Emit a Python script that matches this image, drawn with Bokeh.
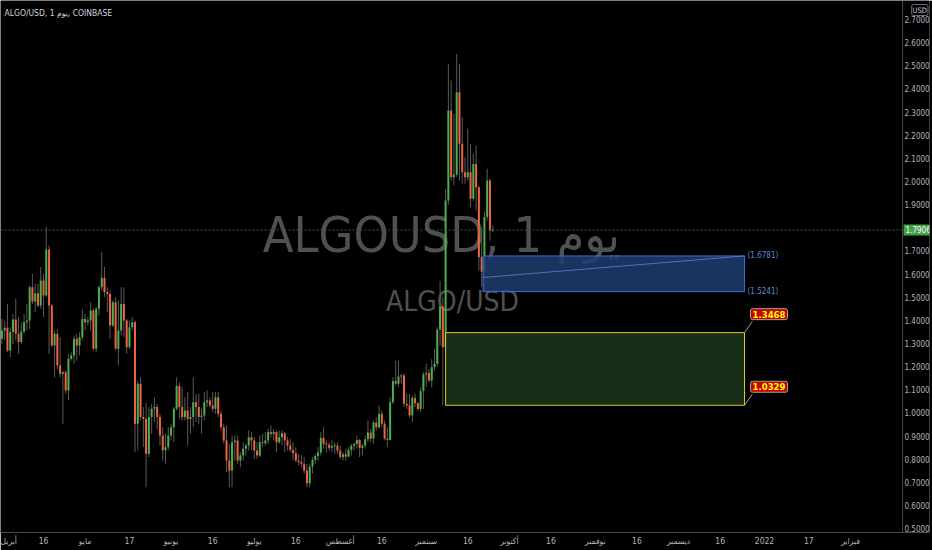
import numpy as np
import pandas as pd
from bokeh.plotting import figure
from bokeh.models import (ColumnDataSource, FixedTicker, NumeralTickFormatter,
                          Span, Label, Range1d)
from bokeh.core.properties import value
from bokeh.embed import file_html
from bokeh.resources import INLINE

# ---- ALGO/USD daily candles, Coinbase, from 2021-04-01 ----
first_day = "2021-04-01"

open_ = [1.320, 1.356, 1.368, 1.270, 1.349, 1.404, 1.342, 1.306, 1.352, 1.392,
         1.399, 1.543, 1.481, 1.517, 1.464, 1.572, 1.507, 1.706, 1.464, 1.291,
         1.342, 1.205, 1.169, 1.176, 1.097, 1.234, 1.248, 1.320, 1.291, 1.327,
         1.406, 1.392, 1.399, 1.442, 1.277, 1.450, 1.543, 1.584, 1.522, 1.514,
         1.378, 1.478, 1.277, 1.356, 1.471, 1.399, 1.284, 1.370, 1.392, 0.953,
         1.126, 0.982, 0.974, 0.823, 0.982, 1.018, 1.025, 0.982, 0.902, 0.838,
         0.852, 0.902, 0.938, 1.018, 1.116, 1.025, 0.982, 1.010, 0.974, 0.982,
         1.046, 1.025, 0.982, 0.989, 1.046, 1.054, 1.032, 1.018, 1.068, 0.996,
         0.938, 0.881, 0.794, 0.751, 0.873, 0.881, 0.794, 0.816, 0.845, 0.859,
         0.895, 0.881, 0.837, 0.816, 0.873, 0.869, 0.881, 0.917, 0.909, 0.917,
         0.873, 0.895, 0.912, 0.881, 0.859, 0.840, 0.826, 0.794, 0.787, 0.780,
         0.751, 0.696, 0.768, 0.797, 0.813, 0.829, 0.892, 0.866, 0.863, 0.849,
         0.856, 0.859, 0.837, 0.809, 0.821, 0.811, 0.840, 0.858, 0.866, 0.883,
         0.849, 0.859, 0.886, 0.915, 0.889, 0.958, 0.938, 0.996, 0.953, 0.889,
         0.883, 1.046, 1.137, 1.126, 1.157, 1.162, 1.039, 1.032, 0.989, 1.065,
         1.042, 1.017, 1.094, 1.166, 1.172, 1.140, 1.197, 1.212, 1.360, 1.460,
         1.284, 1.918, 2.307, 2.018, 2.030, 2.386, 2.163, 2.040, 2.018, 2.040,
         1.925, 2.076, 1.975, 1.673, 1.610, 1.846, 2.004, 1.788]

high = [1.406, 1.399, 1.471, 1.370, 1.428, 1.493, 1.414, 1.392, 1.428, 1.471,
        1.550, 1.601, 1.558, 1.558, 1.630, 1.601, 1.803, 1.723, 1.471, 1.356,
        1.360, 1.327, 1.183, 1.183, 1.255, 1.262, 1.334, 1.342, 1.349, 1.450,
        1.428, 1.414, 1.478, 1.450, 1.457, 1.550, 1.695, 1.630, 1.543, 1.529,
        1.486, 1.500, 1.486, 1.543, 1.543, 1.406, 1.399, 1.414, 1.399, 1.140,
        1.154, 1.025, 1.046, 1.025, 1.039, 1.068, 1.039, 0.996, 0.938, 0.910,
        0.938, 0.953, 1.025, 1.154, 1.133, 1.111, 1.068, 1.090, 1.025, 1.154,
        1.082, 1.082, 1.018, 1.090, 1.097, 1.068, 1.090, 1.090, 1.090, 1.010,
        0.953, 0.946, 0.866, 0.902, 0.902, 0.902, 0.830, 0.873, 0.866, 0.924,
        0.917, 0.895, 0.873, 0.902, 0.909, 0.917, 0.931, 0.945, 0.931, 0.924,
        0.924, 0.924, 0.917, 0.895, 0.888, 0.873, 0.852, 0.823, 0.816, 0.809,
        0.780, 0.780, 0.809, 0.823, 0.852, 0.917, 0.938, 0.881, 0.873, 0.881,
        0.873, 0.873, 0.859, 0.830, 0.845, 0.852, 0.866, 0.873, 0.902, 0.888,
        0.866, 0.902, 0.967, 0.931, 0.967, 0.981, 1.032, 1.010, 0.967, 0.938,
        1.068, 1.154, 1.226, 1.226, 1.169, 1.169, 1.082, 1.082, 1.075, 1.082,
        1.046, 1.111, 1.176, 1.212, 1.190, 1.232, 1.275, 1.370, 1.570, 1.500,
        1.968, 2.508, 2.436, 2.292, 2.551, 2.508, 2.278, 2.105, 2.228, 2.163,
        2.120, 2.155, 1.982, 1.800, 1.870, 2.055, 2.011, 1.810]

low = [1.298, 1.316, 1.262, 1.241, 1.298, 1.313, 1.255, 1.298, 1.342, 1.356,
       1.363, 1.471, 1.435, 1.457, 1.450, 1.414, 1.500, 1.255, 1.284, 1.154,
       1.190, 1.154, 0.953, 1.082, 1.054, 1.226, 1.212, 1.226, 1.248, 1.313,
       1.356, 1.378, 1.356, 1.270, 1.262, 1.421, 1.529, 1.500, 1.435, 1.320,
       1.370, 1.270, 1.205, 1.334, 1.327, 1.255, 1.277, 1.356, 0.830, 0.838,
       0.967, 0.852, 0.679, 0.809, 0.910, 0.960, 0.931, 0.859, 0.794, 0.780,
       0.838, 0.881, 0.874, 1.010, 0.974, 0.967, 0.967, 0.859, 0.910, 0.938,
       0.960, 0.953, 0.910, 0.967, 1.025, 1.025, 1.003, 0.996, 0.982, 0.924,
       0.866, 0.744, 0.679, 0.679, 0.794, 0.780, 0.765, 0.794, 0.816, 0.837,
       0.837, 0.801, 0.801, 0.809, 0.852, 0.859, 0.866, 0.895, 0.881, 0.830,
       0.866, 0.859, 0.830, 0.837, 0.830, 0.794, 0.787, 0.773, 0.765, 0.737,
       0.679, 0.679, 0.737, 0.780, 0.794, 0.816, 0.845, 0.830, 0.837, 0.830,
       0.823, 0.823, 0.801, 0.794, 0.794, 0.809, 0.816, 0.837, 0.845, 0.809,
       0.816, 0.845, 0.873, 0.873, 0.866, 0.924, 0.931, 0.938, 0.881, 0.852,
       0.881, 1.039, 1.118, 1.111, 1.126, 1.025, 1.017, 0.981, 0.960, 1.025,
       1.010, 1.003, 1.017, 1.111, 1.133, 1.110, 1.183, 1.200, 1.290, 1.0329,
       1.270, 1.900, 2.004, 1.983, 2.020, 2.004, 1.990, 1.990, 2.004, 1.889,
       1.915, 1.875, 1.615, 1.545, 1.5241, 1.830, 1.745, 1.780]

close = [1.356, 1.368, 1.270, 1.349, 1.404, 1.342, 1.306, 1.352, 1.392, 1.399,
         1.543, 1.481, 1.517, 1.464, 1.572, 1.507, 1.706, 1.464, 1.291, 1.342,
         1.205, 1.169, 1.176, 1.097, 1.234, 1.248, 1.320, 1.291, 1.327, 1.406,
         1.392, 1.399, 1.442, 1.277, 1.450, 1.543, 1.584, 1.522, 1.514, 1.378,
         1.478, 1.277, 1.356, 1.471, 1.399, 1.284, 1.370, 1.392, 0.953, 1.126,
         0.982, 0.974, 0.823, 0.982, 1.018, 1.025, 0.982, 0.902, 0.838, 0.852,
         0.902, 0.938, 1.018, 1.116, 1.025, 0.982, 1.010, 0.974, 0.982, 1.046,
         1.025, 0.982, 0.989, 1.046, 1.054, 1.032, 1.018, 1.068, 0.996, 0.938,
         0.881, 0.794, 0.751, 0.873, 0.881, 0.794, 0.816, 0.845, 0.859, 0.895,
         0.881, 0.837, 0.816, 0.873, 0.869, 0.881, 0.917, 0.909, 0.917, 0.873,
         0.895, 0.912, 0.881, 0.859, 0.840, 0.826, 0.794, 0.787, 0.780, 0.751,
         0.696, 0.768, 0.797, 0.813, 0.829, 0.892, 0.866, 0.863, 0.849, 0.856,
         0.859, 0.837, 0.809, 0.821, 0.811, 0.840, 0.858, 0.866, 0.883, 0.849,
         0.859, 0.886, 0.915, 0.889, 0.958, 0.938, 0.996, 0.953, 0.889, 0.883,
         1.046, 1.137, 1.126, 1.157, 1.162, 1.039, 1.032, 0.989, 1.065, 1.042,
         1.017, 1.094, 1.166, 1.172, 1.140, 1.197, 1.212, 1.360, 1.460, 1.284,
         1.918, 2.307, 2.018, 2.030, 2.386, 2.163, 2.040, 2.018, 2.040, 1.925,
         2.076, 1.975, 1.673, 1.610, 1.846, 2.004, 1.788, 1.7906]

last_price = 1.7906

# time-axis ticks (Arabic month names, day numbers in between)
tick_dates = ["2021-04-01", "2021-04-16", "2021-05-01", "2021-05-17", "2021-06-01",
              "2021-06-16", "2021-07-01", "2021-07-16", "2021-08-01", "2021-08-16",
              "2021-09-01", "2021-09-16", "2021-10-01", "2021-10-16", "2021-11-01",
              "2021-11-16", "2021-12-01", "2021-12-16", "2022-01-01", "2022-01-17",
              "2022-02-01"]
tick_labels = ["أبريل", "16", "مايو", "17", "يونيو", "16", "يوليو", "16", "أغسطس", "16",
               "سبتمبر", "16", "أكتوبر", "16", "نوفمبر", "16", "ديسمبر", "16", "2022", "17",
               "فبراير"]

price_ticks = [0.5, 0.6, 0.7, 0.8, 0.9, 1.0, 1.1, 1.2, 1.3, 1.4, 1.5, 1.6,
               1.7, 1.9, 2.0, 2.1, 2.2, 2.3, 2.4, 2.5, 2.6, 2.7]

# drawn zones: (top, bottom) prices and day extents
blue_zone = (1.6781, 1.5241)
blue_days = (173.5, 267.8)
blue_trend = (1.585, 1.6781)
green_zone = (1.3468, 1.0329)
green_days = (160.0, 267.8)

# ---- styling ----
BG = "#000000"
UP = "#4caf50"
DOWN = "#ef6440"
WICK = "#5a5a5a"
AXIS_TXT = "#b2b5be"
SEP = "#4a4a4a"
FONT = "DejaVu Sans Condensed"

PANE_END = 324.8          # last day visible before the price scale
X_END = 334.5             # right edge of the plotting frame in days

t0 = pd.Timestamp(first_day)
days = np.asarray((pd.date_range(t0, periods=len(close), freq="D") - t0).days, dtype=float)
o = np.array(open_)
c = np.array(close)
body_lo = np.minimum(o, c)
body_hi = np.maximum(np.maximum(o, c), body_lo + 0.004)
colors = [UP if cc >= oo else DOWN for oo, cc in zip(o, c)]

src = ColumnDataSource(dict(x=days, high=high, low=low, top=body_hi,
                            bottom=body_lo, color=colors))

p = figure(width=932, height=550, output_backend="svg", toolbar_location=None,
           x_range=Range1d(-0.505, X_END), y_range=Range1d(0.4831, 2.782),
           y_axis_location="right",
           min_border_left=0, min_border_top=0, min_border_right=0,
           min_border_bottom=18,
           background_fill_color=BG, border_fill_color=BG,
           outline_line_color=None)
p.xgrid.visible = False
p.ygrid.visible = False

# watermark behind the series
p.text(x=[158.5], y=[1.7666], text=["ALGOUSD, 1 يوم"], text_align="center",
       text_baseline="middle", text_font=value(FONT), text_font_size="50px",
       text_color="#505050")
p.text(x=[162.5], y=[1.4813], text=["ALGO/USD"], text_align="center",
       text_baseline="middle", text_font=value(FONT), text_font_size="28px",
       text_color="#505050")

# candles
p.segment(x0="x", y0="high", x1="x", y1="low", source=src, line_color=WICK,
          line_width=1)
p.vbar(x="x", width=0.72, top="top", bottom="bottom", source=src,
       fill_color="color", line_color=None)

# zones drawn over the candles
p.quad(left=[blue_days[0]], right=[blue_days[1]], top=[blue_zone[0]],
       bottom=[blue_zone[1]], fill_color="#1f3c70", fill_alpha=0.85,
       line_color="#3a6fd8", line_width=1)
p.line(x=list(blue_days), y=list(blue_trend), line_color="#6b8fd0",
       line_alpha=0.7, line_width=1)
p.quad(left=[green_days[0]], right=[green_days[1]], top=[green_zone[0]],
       bottom=[green_zone[1]], fill_color="#1a331a", fill_alpha=0.9,
       line_color="#e0cc2a", line_width=1)

for val in blue_zone:
    p.add_layout(Label(x=blue_days[1], y=val, x_offset=3, text=f"({val:.4f})",
                       text_baseline="middle", text_font=FONT,
                       text_font_size="8px", text_color="#5b8ad8"))

# red price callouts at the green zone corners
for val in green_zone:
    p.segment(x0=[green_days[1]], y0=[val], x1=[green_days[1] + 2.8],
              y1=[val + 0.048], line_color="#9e9e9e", line_width=1)
    p.add_layout(Label(x=green_days[1], y=val, x_offset=6, y_offset=13,
                       text=f"{val:.4f}", text_baseline="bottom",
                       text_font=FONT, text_font_size="9.5px",
                       text_font_style="bold", text_color="#ffff00",
                       background_fill_color="#c80000", border_line_color="#9e9e9e",
                       border_line_width=1, padding=2, border_radius=2))

# last price line
p.add_layout(Span(location=last_price, dimension="width", line_color="#226b2c",
                  line_dash="2 2", line_width=1))

# price-scale separator
p.add_layout(Span(location=PANE_END, dimension="height", line_color=SEP,
                  line_width=1))

# last price tag on the scale
p.add_layout(Label(x=PANE_END, y=last_price, x_offset=1, text=f"{last_price:.4f}",
                   text_baseline="middle", text_font=FONT, text_font_size="8px",
                   text_color="#ffffff", background_fill_color="#43a047",
                   padding=2))

# header texts
p.add_layout(Label(x=-0.505, y=2.782, x_offset=4, y_offset=-12,
                   text="ALGO/USD, 1 يوم, COINBASE", text_baseline="middle",
                   text_font=FONT, text_font_size="8.5px", text_color="#d1d4dc"))
p.add_layout(Label(x=PANE_END, y=2.782, x_offset=9, y_offset=-4, text="USD",
                   text_baseline="top", text_font=FONT, text_font_size="7.5px",
                   text_color="#d1d4dc", border_line_color="#6a6d78",
                   padding=1, border_radius=2))

# axes: price labels pulled back over the scale strip
ya = p.yaxis[0]
ya.ticker = FixedTicker(ticks=price_ticks)
ya.formatter = NumeralTickFormatter(format="0.0000")
ya.major_tick_out = 0
ya.major_tick_in = 0
ya.minor_tick_out = 0
ya.minor_tick_in = 0
ya.major_tick_line_color = None
ya.minor_tick_line_color = None
ya.axis_line_color = None
ya.major_label_text_color = AXIS_TXT
ya.major_label_text_font = FONT
ya.major_label_text_font_size = "8px"
ya.major_label_standoff = -25

tick_days = [float((pd.Timestamp(d) - t0).days) for d in tick_dates]
xa = p.xaxis[0]
xa.ticker = FixedTicker(ticks=tick_days)
xa.major_label_overrides = {d: lab for d, lab in zip(tick_days, tick_labels)}
xa.major_tick_out = 0
xa.major_tick_in = 0
xa.minor_tick_out = 0
xa.minor_tick_in = 0
xa.major_tick_line_color = None
xa.minor_tick_line_color = None
xa.axis_line_color = SEP
xa.major_label_text_color = AXIS_TXT
xa.major_label_text_font = FONT
xa.major_label_text_font_size = "8.5px"
xa.major_label_standoff = 3

open("out.html", "w").write(file_html(p, INLINE))
